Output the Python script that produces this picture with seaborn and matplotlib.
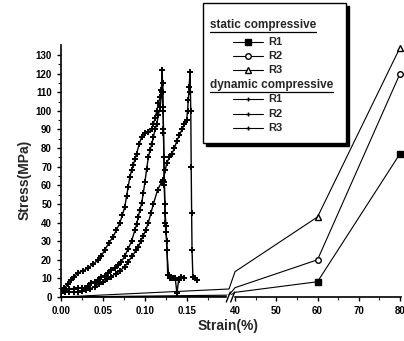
import numpy as np
import matplotlib
matplotlib.use("Agg")
import matplotlib.pyplot as plt
from matplotlib.lines import Line2D
from matplotlib.patches import Rectangle
import seaborn as sns

# dynamic compressive curves (strain in the 0-0.2 part of the axis)
dyn_r1_strain = [0, 0.004, 0.008, 0.012, 0.016, 0.020, 0.026, 0.032, 0.038, 0.044, 0.048,
                 0.052, 0.057, 0.062, 0.066, 0.070, 0.073, 0.076, 0.078, 0.080,
                 0.082, 0.084, 0.086, 0.088, 0.090, 0.093, 0.096, 0.100, 0.104, 0.108,
                 0.110, 0.112, 0.114, 0.116, 0.118,
                 0.1195, 0.1205, 0.121, 0.1215, 0.122, 0.1225, 0.123, 0.124, 0.125,
                 0.126, 0.128, 0.131]
dyn_r1_stress = [2, 4.7, 7, 9.1, 11, 12.9, 14, 15.6, 17.5, 19.9, 22,
                 25.2, 29, 32.4, 36, 39.7, 44, 48.5, 54, 59.3,
                 64.6, 68, 71, 74, 77, 82, 86, 88, 88.5, 90,
                 93, 96, 100, 104, 107.6,
                 111, 122, 110, 100, 88, 75, 62, 45, 38,
                 25, 12, 10]

dyn_r2_strain = [0, 0.005, 0.010, 0.015, 0.020, 0.025, 0.028, 0.032, 0.036, 0.040, 0.044,
                 0.048, 0.052, 0.056, 0.060, 0.064, 0.068, 0.072, 0.076, 0.080, 0.084,
                 0.088, 0.090, 0.092, 0.094, 0.096, 0.098, 0.100, 0.102, 0.104, 0.106,
                 0.108, 0.110, 0.112, 0.114, 0.116, 0.118,
                 0.120, 0.121, 0.1215, 0.122, 0.1225, 0.123, 0.1235, 0.124, 0.125, 0.126,
                 0.127, 0.130, 0.133, 0.136, 0.138, 0.140, 0.143, 0.146]
dyn_r2_stress = [3, 4, 4.5, 4.5, 4.7, 4.7, 5, 6, 7.3, 8, 9,
                 10.9, 11.5, 13, 14.5, 15.5, 17, 19, 22, 26, 30,
                 36, 39, 43, 47, 50.3, 56, 62, 69, 75, 79,
                 82, 86, 90, 93, 98, 102,
                 110, 115, 102, 90, 75, 60, 50, 40, 35, 30,
                 12, 10, 10, 10, 2, 9, 11, 10]

dyn_r3_strain = [0, 0.005, 0.010, 0.015, 0.020, 0.025, 0.030, 0.035, 0.040, 0.045, 0.050,
                 0.055, 0.060, 0.065, 0.070, 0.076, 0.080, 0.085, 0.089, 0.092, 0.095,
                 0.098, 0.101, 0.104, 0.107, 0.110, 0.115, 0.120, 0.122, 0.124, 0.126,
                 0.129, 0.132, 0.135, 0.138, 0.141, 0.144, 0.147, 0.1496, 0.1506, 0.1516,
                 0.1526, 0.1536, 0.1541, 0.1545, 0.155, 0.1555, 0.156, 0.157, 0.159, 0.162]
dyn_r3_stress = [2, 2.5, 2.7, 2.7, 2.8, 3, 3.5, 4.5, 5.5, 7, 8,
                 9.5, 11, 12.5, 14, 16.3, 19, 22, 25, 27, 30,
                 33, 36, 40, 45, 50, 57.5, 62, 63, 68, 72,
                 75, 77, 80, 84, 87, 90, 93, 95, 100, 106,
                 113, 121, 110, 100, 70, 45, 25, 11, 10, 9]

# static compressive curves
static_strain = [0, 0.2, 40, 60, 80]
static_r1 = [0, 0.4, 2.5, 8.2, 77]
static_r2 = [0, 1.0, 5, 20, 120]
static_r3 = [0, 4.3, 13.6, 43, 134]

xticks = [0, 0.05, 0.10, 0.15, 40, 50, 60, 70, 80]
xticklabels = ["0.00", "0.05", "0.10", "0.15", "40", "50", "60", "70", "80"]
xminor = [0.025, 0.075, 0.125, 0.175, 45, 55, 65, 75]

sns.set_theme(style="ticks")
plt.rcParams["font.family"] = ["Liberation Sans", "DejaVu Sans"]
plt.rcParams["font.weight"] = "bold"


# broken x axis: 0-0.2 squeezed next to 40-80
def fwd(x):
    x = np.asarray(x, dtype=float)
    return np.where(x <= 0.2, x * 840,
                    np.where(x < 40, 168 + (x - 0.2) / 39.8 * 6, 174 + (x - 40) * 4.125))


def inv(u):
    u = np.asarray(u, dtype=float)
    return np.where(u <= 168, u / 840,
                    np.where(u < 174, 0.2 + (u - 168) / 6 * 39.8, 40 + (u - 174) / 4.125))


W, H = 404, 341
fig = plt.figure(figsize=(W / 100, H / 100), dpi=100)
ax = fig.add_axes([61 / W, 1 - 297 / H, 340 / W, 252 / H])
ax.set_xscale("function", functions=(fwd, inv))

for xs, ys in [(dyn_r1_strain, dyn_r1_stress), (dyn_r2_strain, dyn_r2_stress),
               (dyn_r3_strain, dyn_r3_stress)]:
    sns.lineplot(x=xs, y=ys, ax=ax, sort=False, estimator=None, color="black",
                 lw=1.0, marker="+", markersize=4, markeredgewidth=1.4,
                 markeredgecolor="black")

static_styles = [(static_r1, "s", "black"), (static_r2, "o", "white"), (static_r3, "^", "white")]
for ys, mk, fc in static_styles:
    ax.plot(static_strain, ys, color="black", lw=0.8, marker=mk, markersize=4,
            markerfacecolor=fc, markeredgecolor="black", markeredgewidth=1.0,
            markevery=[3, 4], clip_on=False)

ax.set_xlim(0, 80.24)
ax.set_ylim(0, 135.4)
ax.set_xticks(xticks)
ax.set_xticklabels(xticklabels)
ax.set_xticks(xminor, minor=True)
ax.set_yticks(np.arange(0, 131, 10))
ax.set_yticks(np.arange(5, 131, 10), minor=True)
ax.tick_params(which="major", direction="out", length=3, width=1, pad=3.5,
               labelsize=7, colors="black")
ax.tick_params(which="minor", direction="out", length=2, width=0.8)
for lab in ax.get_xticklabels() + ax.get_yticklabels():
    lab.set_fontweight("bold")
sns.despine(ax=ax)
for s in ["left", "bottom"]:
    ax.spines[s].set_linewidth(1.2)
    ax.spines[s].set_color("black")
ax.grid(False)

fig.text(25 / W, 1 - 180 / H, "Stress(MPa)", rotation=90, ha="center", va="center",
         fontsize=10, fontweight="bold")
fig.text(228 / W, 1 - 326 / H, "Strain(%)", ha="center", va="center",
         fontsize=10, fontweight="bold")

# axis break marks
fig.canvas.draw()
cx = fwd(10) + 61
cy = 297
fig.add_artist(Rectangle(((cx - 3) / W, 1 - (cy + 2) / H), 6 / W, 4 / H,
                         transform=fig.transFigure, color="white", zorder=5))
for o in (-2.2, 2.2):
    fig.add_artist(Line2D([(cx + o - 2) / W, (cx + o + 2) / W],
                          [1 - (cy + 5) / H, 1 - (cy - 5) / H],
                          transform=fig.transFigure, color="black", lw=1, zorder=6))

# legend box with shadow
bx0, bx1, by0, by1 = 203, 346, 3, 143
fig.add_artist(Rectangle(((bx0 + 3) / W, 1 - (by1 + 3) / H), (bx1 - bx0) / W, (by1 - by0) / H,
                         transform=fig.transFigure, facecolor="black", edgecolor="black",
                         zorder=7))
fig.add_artist(Rectangle((bx0 / W, 1 - by1 / H), (bx1 - bx0) / W, (by1 - by0) / H,
                         transform=fig.transFigure, facecolor="white", edgecolor="black",
                         lw=1, zorder=8))

renderer = fig.canvas.get_renderer()
headers = [("static compressive", 25), ("dynamic compressive", 85)]
for txt, yy in headers:
    t = fig.text(210 / W, 1 - yy / H, txt, ha="left", va="center", fontsize=8.5,
                 fontweight="bold", zorder=9)
    bb = t.get_window_extent(renderer)
    fig.add_artist(Line2D([bb.x0 / W, bb.x1 / W], [(bb.y0 - 1) / H, (bb.y0 - 1) / H],
                          transform=fig.transFigure, color="black", lw=0.9, zorder=9))

entries = [("R1", 42, "s", "black", 4), ("R2", 56, "o", "white", 4), ("R3", 70, "^", "white", 4),
           ("R1", 99, "+", "black", 3), ("R2", 114, "+", "black", 3), ("R3", 128, "+", "black", 3)]
for lab, yy, mk, fc, ms in entries:
    fig.add_artist(Line2D([233 / W, 263 / W], [1 - yy / H, 1 - yy / H],
                          transform=fig.transFigure, color="black", lw=0.8, zorder=9))
    fig.add_artist(Line2D([248 / W], [1 - yy / H], transform=fig.transFigure, marker=mk,
                          markersize=ms, markerfacecolor=fc, markeredgecolor="black",
                          markeredgewidth=1.0, zorder=10))
    fig.text(268 / W, 1 - yy / H, lab, ha="left", va="center", fontsize=8,
             fontweight="bold", zorder=9)

fig.savefig("out.png", dpi=100, facecolor="white")
